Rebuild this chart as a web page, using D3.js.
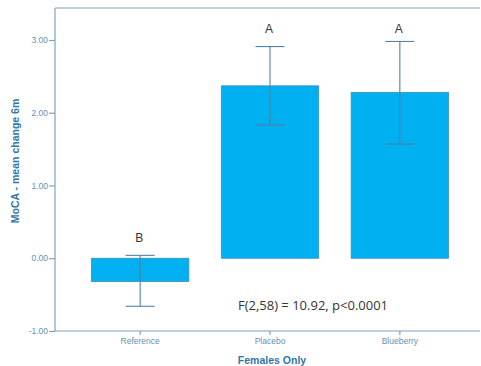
<!DOCTYPE html>
<html>
<head>
<meta charset="utf-8">
<script src="https://cdn.jsdelivr.net/npm/d3@7"></script>
<style>
  body { margin: 0; background: #fff; }
  svg { display: block; }
</style>
</head>
<body>
<svg id="chart" width="481" height="366"></svg>
<script>
// 数据
var groups = ["Reference", "Placebo", "Blueberry"];
var means = [-0.32, 2.37, 2.28];
var ciLow = [-0.66, 1.83, 1.57];
var ciHigh = [0.04, 2.91, 2.98];
var letters = ["B", "A", "A"];
var yTicks = [-1, 0, 1, 2, 3];

var svg = d3.select("#chart");
// 绘图区边界
var plotL = 55, plotR = 480, plotT = 8, plotB = 331;

var y = d3.scaleLinear()
    .domain([-1, 3.44])
    .range([plotB, plotT]);

var x = d3.scaleBand()
    .domain(groups)
    .range([59, 481])
    .paddingInner(0.25)
    .paddingOuter(0.25);

var axisColor = "#7fa2bd";

// 上边框
svg.append("line")
    .attr("x1", plotL).attr("x2", plotR)
    .attr("y1", plotT).attr("y2", plotT)
    .attr("stroke", axisColor).attr("stroke-width", 1.2);

// 柱子
svg.selectAll(".bar")
    .data(groups)
    .enter()
    .append("rect")
    .attr("class", "bar")
    .attr("x", function(d){ return x(d); })
    .attr("width", x.bandwidth())
    .attr("y", function(d, i){ return y(Math.max(0, means[i])); })
    .attr("height", function(d, i){ return Math.abs(y(means[i]) - y(0)); })
    .attr("fill", "#00b0f0")
    .attr("stroke", "#3a8fc4")
    .attr("stroke-width", 0.8);

// 误差线
var capW = 29;
var eb = svg.selectAll(".eb")
    .data(groups)
    .enter()
    .append("g")
    .attr("class", "eb")
    .attr("stroke", "#4f82a6")
    .attr("stroke-width", 1.1);

eb.append("line")
    .attr("x1", function(d){ return x(d) + x.bandwidth()/2; })
    .attr("x2", function(d){ return x(d) + x.bandwidth()/2; })
    .attr("y1", function(d, i){ return y(ciLow[i]); })
    .attr("y2", function(d, i){ return y(ciHigh[i]); });

eb.append("line")
    .attr("x1", function(d){ return x(d) + x.bandwidth()/2 - capW/2; })
    .attr("x2", function(d){ return x(d) + x.bandwidth()/2 + capW/2; })
    .attr("y1", function(d, i){ return y(ciHigh[i]); })
    .attr("y2", function(d, i){ return y(ciHigh[i]); });

eb.append("line")
    .attr("x1", function(d){ return x(d) + x.bandwidth()/2 - capW/2; })
    .attr("x2", function(d){ return x(d) + x.bandwidth()/2 + capW/2; })
    .attr("y1", function(d, i){ return y(ciLow[i]); })
    .attr("y2", function(d, i){ return y(ciLow[i]); });

// 字母 (A 在同一高度)
var letterY = [y(ciHigh[0]) - 13, 33, 33];
svg.selectAll(".letter")
    .data(groups)
    .enter()
    .append("text")
    .attr("class", "letter")
    .attr("x", function(d){ return x(d) + x.bandwidth()/2 - 1; })
    .attr("y", function(d, i){ return letterY[i]; })
    .attr("text-anchor", "middle")
    .attr("font-family", "Liberation Sans, Arial, sans-serif")
    .attr("font-size", 12)
    .attr("fill", "#333")
    .text(function(d, i){ return letters[i]; });

// 坐标轴
var yAxis = d3.axisLeft(y)
    .tickValues(yTicks)
    .tickSize(6)
    .tickFormat(function(d){ return d3.format(".2f")(d).replace("\u2212", "-"); });

var gy = svg.append("g")
    .attr("transform", "translate(" + plotL + ",0)")
    .call(yAxis);
gy.select(".domain").attr("d", "M0," + plotT + "V" + plotB);

var xAxis = d3.axisBottom(x).tickSize(4);
var gx = svg.append("g")
    .attr("transform", "translate(0," + plotB + ")")
    .call(xAxis);
gx.select(".domain").attr("d", "M" + plotL + ",0H" + plotR);

[gy, gx].forEach(function(g){
    g.selectAll(".domain, line").attr("stroke", axisColor).attr("stroke-width", 1.2);
    g.selectAll("text")
        .attr("fill", "#6a8fae")
        .attr("font-family", "Liberation Sans, Arial, sans-serif")
        .attr("font-size", 8.5);
});
gy.selectAll("text").attr("x", -7);
gx.selectAll("text").attr("y", 7);

// 轴标题
svg.append("text")
    .attr("transform", "translate(19,161) rotate(-90)")
    .attr("text-anchor", "middle")
    .attr("font-family", "Liberation Sans, Arial, sans-serif")
    .attr("font-size", 10.5)
    .attr("font-weight", "bold")
    .attr("fill", "#2f76aa")
    .text("MoCA - mean change 6m");

svg.append("text")
    .attr("x", 272)
    .attr("y", 364)
    .attr("text-anchor", "middle")
    .attr("font-family", "Liberation Sans, Arial, sans-serif")
    .attr("font-size", 10.5)
    .attr("font-weight", "bold")
    .attr("fill", "#2f76aa")
    .text("Females Only");

// 统计结果
svg.append("text")
    .attr("x", 313)
    .attr("y", 310)
    .attr("text-anchor", "middle")
    .attr("font-family", "Open Sans, Liberation Sans, sans-serif")
    .attr("font-size", 13)
    .attr("fill", "#333")
    .text("F(2,58) = 10.92, p<0.0001");
</script>
</body>
</html>
